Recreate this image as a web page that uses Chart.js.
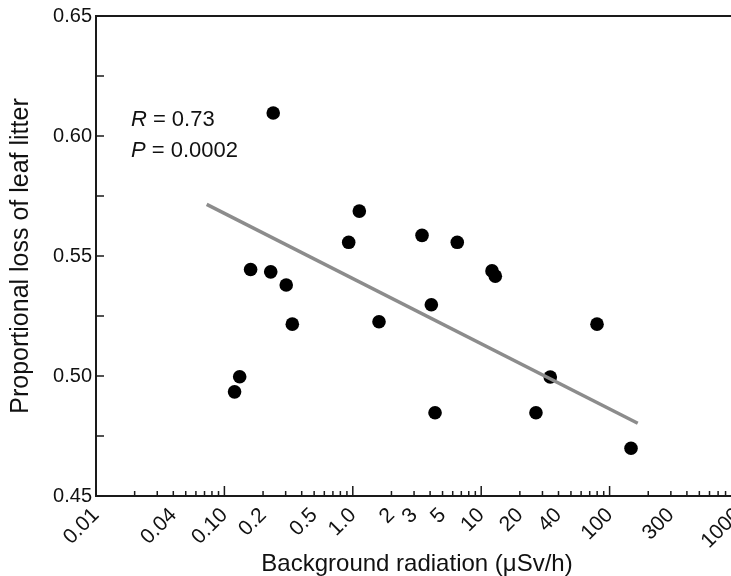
<!DOCTYPE html>
<html>
<head>
<meta charset="utf-8">
<script src="https://cdn.jsdelivr.net/npm/chart.js@4/dist/chart.umd.min.js"></script>
<style>
  html, body { margin: 0; padding: 0; overflow: hidden; background: #fff; }
  #wrap { width: 745px; height: 576px; }
</style>
</head>
<body>
<div id="wrap"><canvas id="c" width="745" height="576"></canvas></div>
<script>
// ---- data ----
const radiation = [0.120, 0.1315, 0.160, 0.240, 0.2295, 0.303, 0.338, 0.929, 1.124, 1.60,
                   3.46, 4.09, 4.37, 6.51, 12.14, 12.88, 26.7, 34.5, 79.8, 146.8];
const leafLoss  = [0.4934, 0.4997, 0.5444, 0.6096, 0.5434, 0.5379, 0.5216, 0.5557, 0.5687, 0.5226,
                   0.5586, 0.5297, 0.4847, 0.5557, 0.5438, 0.5416, 0.4847, 0.4996, 0.5216, 0.4699];
const fitX = [0.0728, 165.6];
const fitY = [0.5715, 0.4803];
const xTickValues = [0.01, 0.04, 0.1, 0.2, 0.5, 1, 2, 3, 5, 10, 20, 40, 100, 300, 1000];
const xTickLabels = ['0.01', '0.04', '0.10', '0.2', '0.5', '1.0', '2', '3', '5', '10', '20', '40', '100', '300', '1000'];
const yTickValues = [0.45, 0.50, 0.55, 0.60, 0.65];
const yMinorValues = [0.475, 0.525, 0.575, 0.625];
const statLines = [['R', ' = 0.73'], ['P', ' = 0.0002']];

const FONT = "'Liberation Sans', Arial, Helvetica, sans-serif";

const framePlugin = {
  id: 'frame',
  afterDatasetsDraw(chart) {
    const ctx = chart.ctx;
    const a = chart.chartArea;
    const xs = chart.scales.x, ys = chart.scales.y;
    ctx.save();
    ctx.strokeStyle = '#1a1a1a';
    ctx.lineWidth = 2;
    ctx.beginPath();
    ctx.rect(a.left, a.top, a.right - a.left, a.bottom - a.top);
    ctx.stroke();
    ctx.lineWidth = 1.5;
    // x ticks (inward)
    ctx.beginPath();
    for (let k = -2; k < 3; k++) {
      for (let m = 1; m < 10; m++) {
        const v = m * Math.pow(10, k);
        const px = xs.getPixelForValue(v);
        const len = m === 1 ? 10 : 5;
        ctx.moveTo(px, a.bottom);
        ctx.lineTo(px, a.bottom - len);
      }
    }
    // y ticks (inward)
    yTickValues.concat(yMinorValues).forEach(v => {
      const py = ys.getPixelForValue(v);
      ctx.moveTo(a.left, py);
      ctx.lineTo(a.left + 8, py);
    });
    ctx.stroke();
    // stats text
    ctx.fillStyle = '#111';
    ctx.textBaseline = 'middle';
    const tx = xs.getPixelForValue(0.0187);
    statLines.forEach((ln, i) => {
      const ty = ys.getPixelForValue(i === 0 ? 0.6069 : 0.5937);
      ctx.font = 'italic 22px ' + FONT;
      ctx.fillText(ln[0], tx, ty);
      const w = ctx.measureText(ln[0]).width;
      ctx.font = '22px ' + FONT;
      ctx.fillText(ln[1], tx + w, ty);
    });
    ctx.restore();
  }
};

new Chart(document.getElementById('c'), {
  type: 'scatter',
  data: {
    datasets: [
      {
        type: 'line',
        data: fitX.map((x, i) => ({ x: x, y: fitY[i] })),
        borderColor: '#8c8c8c',
        borderWidth: 3.5,
        pointRadius: 0,
        fill: false,
        order: 0
      },
      {
        data: radiation.map((x, i) => ({ x: x, y: leafLoss[i] })),
        backgroundColor: '#000',
        borderWidth: 0,
        pointRadius: 6.8,
        order: 1
      }
    ]
  },
  options: {
    responsive: false,
    animation: false,
    devicePixelRatio: 1,
    layout: { padding: { top: 16, right: 7, left: 0, bottom: 0 } },
    plugins: { legend: { display: false }, tooltip: { enabled: false } },
    scales: {
      x: {
        type: 'logarithmic',
        min: 0.01, max: 1000,
        border: { display: false },
        grid: { display: false, drawTicks: false },
        afterBuildTicks: (s) => { s.ticks = xTickValues.map(v => ({ value: v })); },
        afterFit: (s) => { s.height = 80; s.paddingLeft = 0; s.paddingRight = 0; },
        ticks: {
          autoSkip: false, minRotation: 45, maxRotation: 45, padding: 7,
          color: '#111',
          font: { family: FONT, size: 21 },
          callback: (v, i) => xTickLabels[i]
        },
        title: {
          display: true, text: 'Background radiation (\u03BCSv/h)', color: '#111',
          font: { family: FONT, size: 24, lineHeight: 1.0 }, padding: { top: 0, bottom: 0 }
        }
      },
      y: {
        min: 0.45, max: 0.65,
        border: { display: false },
        grid: { display: false, drawTicks: false },
        afterBuildTicks: (s) => { s.ticks = yTickValues.map(v => ({ value: v })); },
        afterFit: (s) => { s.width = 96; s.paddingTop = 0; s.paddingBottom = 0; },
        ticks: {
          padding: 4, color: '#111',
          font: { family: FONT, size: 20 },
          callback: (v) => v.toFixed(2)
        },
        title: {
          display: true, text: 'Proportional loss of leaf litter', color: '#111',
          font: { family: FONT, size: 25 }, padding: { top: 6, bottom: 0 }
        }
      }
    }
  },
  plugins: [framePlugin]
});
</script>
</body>
</html>
